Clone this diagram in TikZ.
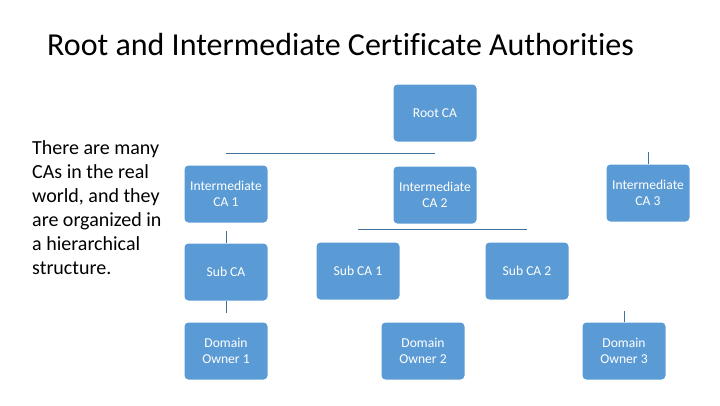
\documentclass[tikz,border=0pt]{standalone}
\usepackage{fontspec}
\setmainfont{Carlito}[Ligatures={NoCommon,NoContextual}]
\definecolor{boxblue}{HTML}{5B9BD5}
\definecolor{linkblue}{HTML}{41719C}
\begin{document}
\begin{tikzpicture}[x=1pt,y=-1pt,
  cabox/.style={fill=boxblue,rounded corners=4pt,minimum width=83pt,minimum height=57pt,
    inner sep=0pt,text=white,align=center,font=\fontsize{13.6}{15.5}\selectfont},
  link/.style={draw=linkblue,line width=0.9pt}]
\useasboundingbox (0,0) rectangle (720,405);
\node[anchor=base west,inner sep=0pt,font=\fontsize{32}{36}\selectfont] (title) at (47,55) {Root and Intermediate Certificate Authorities};
\node[anchor=north west,inner sep=0pt,align=left,font=\fontsize{20}{24}\selectfont] (desc) at (32,140)
  {There are many\\CAs in the real\\world, and they\\are organized in\\a hierarchical\\structure.};
\node[cabox] (root) at (435,113) {Root CA};
\node[cabox] (ca1) at (226,194) {Intermediate\\CA 1};
\node[cabox] (ca2) at (435,195) {Intermediate\\CA 2};
\node[cabox] (ca3) at (648,193) {Intermediate\\CA 3};
\node[cabox] (subca) at (226,272) {Sub CA};
\node[cabox] (sub1) at (358,271) {Sub CA 1};
\node[cabox] (sub2) at (527,271) {Sub CA 2};
\node[cabox] (dom1) at (226,351) {Domain\\Owner 1};
\node[cabox] (dom2) at (423,351) {Domain\\Owner 2};
\node[cabox] (dom3) at (624,351) {Domain\\Owner 3};
\coordinate (l1a) at ([yshift=12pt]ca1.north);
\coordinate (l1b) at (root.south |- l1a);
\coordinate (l2a) at ([yshift=13pt]sub1.north);
\coordinate (l2b) at (sub2.north |- l2a);
\coordinate (l3) at ([yshift=12pt]ca3.north);
\coordinate (l4) at ([yshift=12pt]subca.north);
\coordinate (l5) at ([yshift=-12pt]subca.south);
\coordinate (l6) at ([yshift=11pt]dom3.north);
\draw[link] (l1a) -- (l1b);
\draw[link] (l2a) -- (l2b);
\draw[link] (ca3.north) -- (l3);
\draw[link] (subca.north) -- (l4);
\draw[link] (subca.south) -- (l5);
\draw[link] (dom3.north) -- (l6);
\end{tikzpicture}
\end{document}
